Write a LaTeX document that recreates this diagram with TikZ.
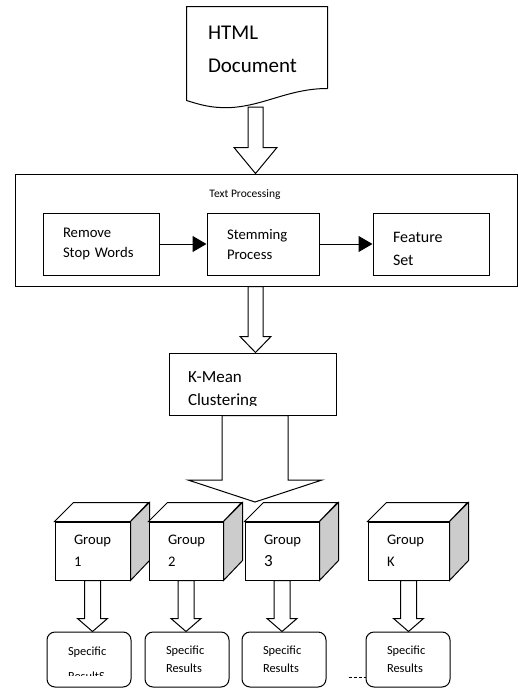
\documentclass[tikz,border=0pt]{standalone}
\usepackage{fontspec}
\setmainfont{Carlito}
\usetikzlibrary{arrows.meta,calc}

% hollow block arrow: from, to, shaft half width, head half width, head length
\newcommand{\hollowarrow}[5]{%
  \draw[fill=white] let \p1=(#1), \p2=(#2) in
    (\x1-#3pt,\y1) -- (\x1-#3pt,\y2+#5pt) -- (\x1-#4pt,\y2+#5pt) -- (\x1,\y2)
    -- (\x1+#4pt,\y2+#5pt) -- (\x1+#3pt,\y2+#5pt) -- (\x1+#3pt,\y1) -- cycle;}

\tikzset{
  box/.style={draw, align=left, inner ysep=0pt, minimum height=62pt},
  boxtext/.style={anchor=west, align=left, inner sep=0pt},
  cubefront/.style={draw, fill=white, align=left, inner xsep=19pt, inner ysep=0pt,
    minimum height=58pt, font=\fontsize{14.6}{22}\selectfont},
  result/.style={draw, rounded corners=8pt, align=left, inner xsep=21pt, inner ysep=0pt,
    text width=42pt, minimum height=55pt, font=\fontsize{12.4}{18}\selectfont},
  flow/.style={-{Triangle[length=14pt,width=16pt]}},
}

\begin{document}
\begin{tikzpicture}[x=1pt,y=-1pt,line width=1pt]
\useasboundingbox (0,0) rectangle (518,688);

% document
\node[minimum width=140pt, minimum height=81pt] (html) at (257,47.5) {};
\node[boxtext, font=\fontsize{21}{33}\selectfont] (htmltxt) at ([xshift=21pt,yshift=-2pt]html.west) {HTML\\Document};
\draw (html.south east) -- (html.north east) -- (html.north west) -- ([yshift=-12pt]html.south west)
  .. controls ([xshift=13pt,yshift=-16pt]html.south west) and ([xshift=25pt,yshift=-20pt]html.south west)
  .. ([xshift=45pt,yshift=-19pt]html.south west)
  .. controls ([xshift=78pt,yshift=-17pt]html.south west) and ([xshift=103pt]html.south west)
  .. (html.south east);

% text processing
\node[draw, minimum width=502pt, minimum height=112pt] (tp) at (266,230) {};
\node[font=\fontsize{11.5}{14}\selectfont] (tplabel) at ([xshift=-21pt,yshift=-21pt]tp.north) {Text Processing};
\node[box, inner xsep=20pt, text width=76pt, font=\fontsize{14.7}{20}\selectfont] (rsw) at (101,244) {Remove\\Stop Words};
\node[box, inner xsep=20pt, text width=72pt, font=\fontsize{14.7}{20}\selectfont] (stem) at (263,244) {Stemming\\Process};
\node[box, minimum width=116pt] (feat) at (431,244) {};
\node[boxtext, font=\fontsize{16}{23}\selectfont] (feattxt) at ([xshift=20pt,yshift=-4.5pt]feat.west) {Feature\\Set};
\draw[flow] (rsw) -- (stem);
\draw[flow] (stem) -- (feat);

% clustering
\node[box, minimum width=167pt] (kmean) at (252.5,384) {};
\begin{scope}
\clip (kmean.north west) rectangle ([yshift=10pt]kmean.south east);
\node[boxtext, font=\fontsize{17}{23}\selectfont] (kmeantxt)
  at ([xshift=19pt,yshift=-6pt]kmean.west) {K-Mean\\Clustering};
\end{scope}

\coordinate (docb) at (255.5,107);
\coordinate (split) at (255,502);
\hollowarrow{docb}{tp.north}{7.5}{21.5}{26}
\hollowarrow{docb |- tp.south}{kmean.north}{7.5}{15.5}{16}
\hollowarrow{split |- kmean.south}{split}{33}{67}{22}

% groups
\foreach \g/\x/\w/\t in {1/92.5/75/1, 2/186/74/2, 3/282/74/{\fontsize{17}{22}\selectfont 3}, K/408.5/81/K} {
  \pgfmathsetmacro\tw{\w-38}
  \node[cubefront, minimum width=\w pt, text width=\tw pt] (g\g) at (\x,551) {Group\\\t};
  \draw[fill=white] (g\g.north west) -- ++(19,-19) -- ++(\w,0) -- (g\g.north east) -- cycle;
  \draw[fill=black!20] (g\g.north east) -- ++(19,-19) -- ++(0,58) -- (g\g.south east) -- cycle;
}

% results
\node[result] (r1) at (89,659.5) {};
\foreach \g/\x in {2/187, 3/284, K/408} {
  \node[result] (r\g) at (\x,659.5) {Specific\\Results};
}
\begin{scope}
\clip (r1.north west) rectangle ([yshift=12pt]r1.south east);
\node[result, draw=none, font=\fontsize{12.4}{25}\selectfont] (r1txt) at ([yshift=-4.5pt]r1.center) {Specific\\ResultS};
\end{scope}
\foreach \g in {1,2,3,K} {
  \coordinate (t\g) at (g\g.south |- r\g.north);
  \hollowarrow{g\g.south}{t\g}{8}{15}{13}
}
\draw[dash pattern=on 3pt off 2pt] ([xshift=-17pt,yshift=-17.5pt]rK.west) -- ([yshift=-17.5pt]rK.west);
\end{tikzpicture}
\end{document}
